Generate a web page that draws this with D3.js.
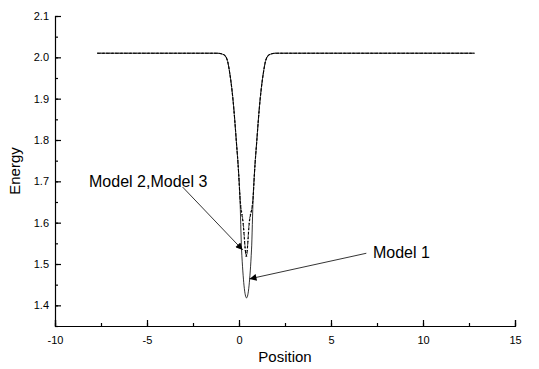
<!DOCTYPE html>
<html>
<head>
<meta charset="utf-8">
<script src="https://cdn.jsdelivr.net/npm/d3@7"></script>
<style>
  body { margin: 0; background: #fff; }
  svg { display: block; font-family: Arial, "Liberation Sans", sans-serif; }
</style>
</head>
<body>
<div id="chart"></div>
<script>
// values
var model1X = [-7.7, -1.2, -0.85, -0.65, -0.51, -0.29, -0.15, -0.02, 0.05, 0.14, 0.41, 0.68, 0.77, 0.84, 0.97, 1.11, 1.33, 1.47, 1.67, 2.0, 12.8];
var model1Y = [2.01, 2.01, 2.007, 1.995, 1.964, 1.88, 1.80, 1.72, 1.662, 1.534, 1.418, 1.534, 1.662, 1.72, 1.80, 1.88, 1.964, 1.995, 2.007, 2.01, 2.01];

var model2X = [-7.7, -1.2, -0.85, -0.65, -0.51, -0.29, -0.15, -0.02, 0.05, 0.22, 0.40, 0.56, 0.77, 0.84, 0.97, 1.11, 1.33, 1.47, 1.67, 2.0, 12.8];
var model2Y = [2.01, 2.01, 2.007, 1.995, 1.964, 1.88, 1.80, 1.72, 1.662, 1.60, 1.52, 1.60, 1.662, 1.72, 1.80, 1.88, 1.964, 1.995, 2.007, 2.01, 2.01];

var model3X = [-7.7, -1.2, -0.85, -0.65, -0.51, -0.29, -0.15, -0.02, 0.06, 0.23, 0.40, 0.55, 0.76, 0.84, 0.97, 1.11, 1.33, 1.47, 1.67, 2.0, 12.8];
var model3Y = [2.01, 2.01, 2.007, 1.995, 1.964, 1.88, 1.80, 1.72, 1.662, 1.60, 1.515, 1.60, 1.662, 1.72, 1.80, 1.88, 1.964, 1.995, 2.007, 2.01, 2.01];

var xTicks = [-10, -5, 0, 5, 10, 15];
var yTicks = [1.4, 1.5, 1.6, 1.7, 1.8, 1.9, 2.0, 2.1];

// annotations: label position, arrow start, arrow end (data units)
var notes = [
  {text: "Model 2,Model 3", tx: -8.15, ty: 1.686, x1: -3.06, y1: 1.686, x2: 0.2, y2: 1.534},
  {text: "Model 1", tx: 7.28, ty: 1.514, x1: 6.92, y1: 1.526, x2: 0.57, y2: 1.464}
];

var W = 539, H = 369;
var margin = {top: 16, right: 24, bottom: 43, left: 55};
var width = W - margin.left - margin.right,
    height = H - margin.top - margin.bottom;

var svg = d3.select("#chart").append("svg")
    .attr("width", W)
    .attr("height", H)
  .append("g")
    .attr("transform", "translate(" + margin.left + "," + margin.top + ")");

var x = d3.scaleLinear().domain([-10, 15]).range([0, width]);
var y = d3.scaleLinear().domain([1.35, 2.1]).range([height, 0]);

// minor ticks
var x_minor = d3.axisBottom(x).tickValues(d3.range(-10, 15.01, 2.5)).tickSize(-3).tickFormat("");
var y_minor = d3.axisLeft(y).tickValues(d3.range(1.35, 2.101, 0.05)).tickSize(-3).tickFormat("");

svg.append("g").attr("class", "minor")
    .attr("transform", "translate(0," + height + ")")
    .call(x_minor);
svg.append("g").attr("class", "minor")
    .call(y_minor);

var x_axis = d3.axisBottom(x).tickValues(xTicks).tickSize(-6).tickPadding(10)
    .tickFormat(function(d){ return String(d); });
var y_axis = d3.axisLeft(y).tickValues(yTicks).tickSize(-6).tickPadding(6)
    .tickFormat(function(d){ return d.toFixed(1); });

svg.append("g")
    .attr("class", "x axis")
    .attr("transform", "translate(0," + height + ")")
    .call(x_axis);

svg.append("g")
    .attr("class", "y axis")
    .call(y_axis);

svg.selectAll(".axis text").style("font-size", "11px").attr("fill", "#000");
svg.selectAll(".axis path, .axis line, .minor path, .minor line")
    .attr("stroke", "#000").attr("stroke-width", 1.2);
svg.selectAll(".minor path").remove();

// axis titles
svg.append("text")
    .attr("x", width / 2)
    .attr("y", height + 36)
    .attr("text-anchor", "middle")
    .style("font-size", "15px")
    .text("Position");

svg.append("text")
    .attr("transform", "translate(" + (-35) + "," + (height / 2) + ") rotate(-90)")
    .attr("text-anchor", "middle")
    .style("font-size", "15px")
    .text("Energy");

var line = d3.line()
    .x(function(d){ return x(d[0]); })
    .y(function(d){ return y(d[1]); })
    .curve(d3.curveMonotoneX);

function pairs(xs, ys){ return xs.map(function(v, i){ return [v, ys[i]]; }); }

svg.append("path")
    .datum(pairs(model1X, model1Y))
    .attr("d", line)
    .attr("fill", "none")
    .attr("stroke", "#000")
    .attr("stroke-width", 0.8);

svg.append("path")
    .datum(pairs(model3X, model3Y))
    .attr("d", line)
    .attr("fill", "none")
    .attr("stroke", "#000")
    .attr("stroke-width", 0.8)
    .attr("stroke-dasharray", "1,2");

svg.append("path")
    .datum(pairs(model2X, model2Y))
    .attr("d", line)
    .attr("fill", "none")
    .attr("stroke", "#000")
    .attr("stroke-width", 1.1)
    .attr("stroke-dasharray", "3,1.5");

// arrows
svg.append("defs").append("marker")
    .attr("id", "arrow")
    .attr("viewBox", "0 0 10 10")
    .attr("refX", 10).attr("refY", 5)
    .attr("markerWidth", 9).attr("markerHeight", 7)
    .attr("markerUnits", "userSpaceOnUse")
    .attr("orient", "auto")
  .append("path")
    .attr("d", "M0,0L10,5L0,10z")
    .attr("fill", "#000");

var ann = svg.selectAll(".note").data(notes).enter().append("g").attr("class", "note");

ann.append("line")
    .attr("x1", function(d){ return x(d.x1); })
    .attr("y1", function(d){ return y(d.y1); })
    .attr("x2", function(d){ return x(d.x2); })
    .attr("y2", function(d){ return y(d.y2); })
    .attr("stroke", "#000")
    .attr("stroke-width", 0.8)
    .attr("marker-end", "url(#arrow)");

ann.append("text")
    .attr("x", function(d){ return x(d.tx); })
    .attr("y", function(d){ return y(d.ty); })
    .style("font-size", "16px")
    .text(function(d){ return d.text; });
</script>
</body>
</html>
